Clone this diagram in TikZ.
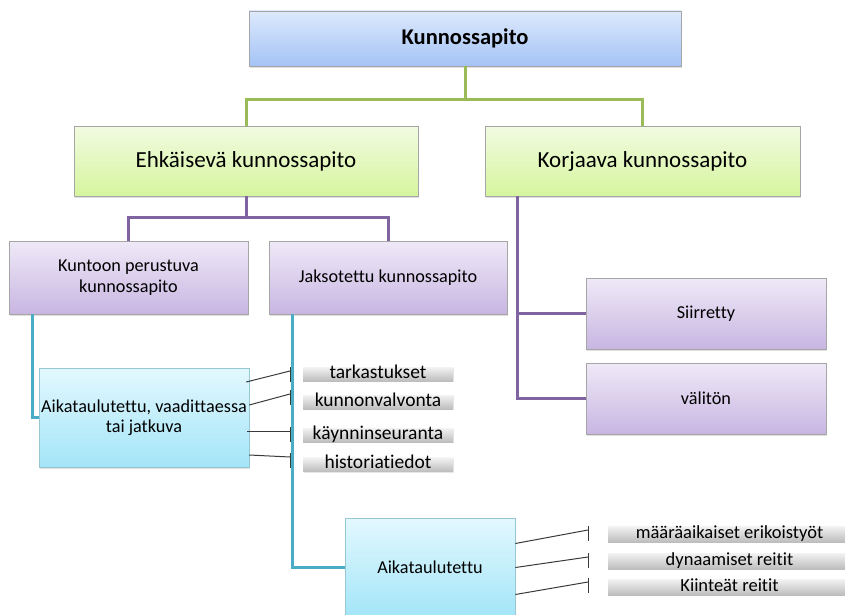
\documentclass[tikz,border=0pt]{standalone}
\usepackage{fontspec}
\setmainfont{Carlito}[Ligatures=NoCommon]
\usetikzlibrary{calc,shadows}

\definecolor{blueTop}{HTML}{DDE9FD}
\definecolor{blueBot}{HTML}{A4C3F5}
\definecolor{greenTop}{HTML}{F1FBE1}
\definecolor{greenBot}{HTML}{D6F59E}
\definecolor{purpTop}{HTML}{EFE9F7}
\definecolor{purpBot}{HTML}{C8B6E2}
\definecolor{cyanTop}{HTML}{E3F8FE}
\definecolor{cyanBot}{HTML}{A3E5F8}
\definecolor{grayTop}{HTML}{F3F3F3}
\definecolor{grayBot}{HTML}{BDBDBD}
\definecolor{boxEdge}{HTML}{A6A6A6}
\definecolor{lnGreen}{HTML}{9BBB59}
\definecolor{lnPurple}{HTML}{8064A2}
\definecolor{lnTeal}{HTML}{4BACC6}
\definecolor{lnDark}{HTML}{3A3A3A}

\tikzset{
  card/.style={draw=boxEdge, line width=0.7pt, inner sep=2pt, align=center,
    text=black, drop shadow={opacity=0.25, shadow xshift=1.2pt, shadow yshift=-1.6pt}},
  bluecard/.style={card, top color=blueTop, bottom color=blueBot},
  greencard/.style={card, top color=greenTop, bottom color=greenBot},
  purplecard/.style={card, top color=purpTop, bottom color=purpBot},
  cyancard/.style={card, draw=cyanBot!70!gray, top color=cyanTop, bottom color=cyanBot},
  tagbar/.style={inner sep=0pt, top color=grayTop, bottom color=grayBot, text=black,
    text height=10pt, text depth=2pt,
    drop shadow={opacity=0.2, shadow xshift=1pt, shadow yshift=-1.2pt}},
  fTitle/.style={font=\fontsize{22.5}{26}\selectfont\bfseries},
  fMain/.style={font=\fontsize{23}{27}\selectfont},
  fSub/.style={font=\fontsize{18.2}{20.5}\selectfont},
  fTagA/.style={font=\fontsize{19.5}{22}\selectfont},
  fTagB/.style={font=\fontsize{18.5}{21}\selectfont},
  linkGreen/.style={draw=lnGreen, line width=3pt},
  linkPurple/.style={draw=lnPurple, line width=3pt},
  linkTeal/.style={draw=lnTeal, line width=3pt},
  pointer/.style={draw=lnDark, line width=1pt},
}

\begin{document}
\begin{tikzpicture}[x=1pt, y=-1pt]
\useasboundingbox (0,0) rectangle (845,615);

% hierarchy boxes
\node[bluecard, fTitle, minimum width=432pt, minimum height=55pt] (top) at (465,38.5) {Kunnossapito};
\node[greencard, fMain, minimum width=344pt, minimum height=70pt] (ehk) at (246,161) {Ehkäisevä kunnossapito};
\node[greencard, fMain, minimum width=315pt, minimum height=70pt] (korj) at (642.5,161) {Korjaava kunnossapito};
\node[purplecard, fSub, minimum width=239pt, minimum height=73pt] (kunt) at (128.5,277.5) {Kuntoon perustuva\\kunnossapito};
\node[purplecard, fSub, minimum width=238pt, minimum height=73pt] (jakso) at (388,277.5) {Jaksotettu kunnossapito};
\node[purplecard, fSub, minimum width=240pt, minimum height=71pt] (siirr) at (706,313.5) {Siirretty};
\node[purplecard, fSub, minimum width=240pt, minimum height=71pt] (valit) at (706,398.5) {välitön};
\node[cyancard, fSub, minimum width=208pt, minimum height=99pt] (aikA) at (144,417.5) {Aikataulutettu, vaadittaessa\\tai jatkuva};
\node[cyancard, fSub, minimum width=170pt, minimum height=99pt] (aikB) at (430,567.5) {Aikataulutettu};

% grey tags
\node[tagbar, fTagA, minimum width=150pt, minimum height=14pt] (g1) at (378,374) {tarkastukset};
\node[tagbar, fTagA, minimum width=150pt, minimum height=14pt] (g2) at (378,402) {kunnonvalvonta};
\node[tagbar, fTagA, minimum width=150pt, minimum height=14pt] (g3) at (378,435) {käynninseuranta};
\node[tagbar, fTagA, minimum width=150pt, minimum height=14pt] (g4) at (378,464.5) {historiatiedot};
\node[tagbar, fTagB, minimum width=243pt, minimum height=16pt] (h1) at (729.5,534) {määräaikaiset erikoistyöt};
\node[tagbar, fTagB, minimum width=243pt, minimum height=16pt] (h2) at (729.5,561) {dynaamiset reitit};
\node[tagbar, fTagB, minimum width=243pt, minimum height=16pt] (h3) at (729.5,587) {Kiinteät reitit};

% tree connectors
\coordinate (gj) at (0,100);
\coordinate (pj) at (0,217);
\draw[linkGreen] (top.south) -- (top.south |- gj) -| (ehk.north);
\draw[linkGreen] (top.south |- gj) -| (korj.north);
\draw[linkPurple] (ehk.south) -- (ehk.south |- pj) -| (kunt.north);
\draw[linkPurple] (ehk.south |- pj) -| (jakso.north);
\draw[linkPurple] ($(korj.south west)+(33,0)$) |- (valit.west);
\draw[linkPurple] ($(korj.south west)+(33,0)$) |- (siirr.west);
\draw[linkTeal] ($(kunt.south west)+(24,0)$) |- (aikA.west);
\draw[linkTeal] ($(jakso.south west)+(24,0)$) |- (aikB.west);

% thin pointers with end ticks
\coordinate (t1) at (290,371);
\coordinate (t2) at (290,394);
\coordinate (t3) at (290,431);
\coordinate (t4) at (290,457);
\coordinate (u1) at (588,530);
\coordinate (u2) at (588,557);
\coordinate (u3) at (588,582);
\draw[pointer] ($(aikA.east)+(-3,-35.5)$) -- (t1);
\draw[pointer] ($(aikA.east)+(0,-12.5)$) -- (t2);
\draw[pointer] ($(aikA.east)+(-2,13.5)$) -- (t3);
\draw[pointer] ($(aikA.east)+(0,37.5)$) -- (t4);
\draw[pointer] ($(aikB.east)+(0,-24)$) -- (u1);
\draw[pointer] ($(aikB.east)+(0,0)$) -- (u2);
\draw[pointer] ($(aikB.east)+(0,27)$) -- (u3);
\foreach \p in {t1,t2,t3,t4,u1,u2,u3}
  \draw[pointer] ($(\p)+(0,-4)$) -- ++(0,15);
\end{tikzpicture}
\end{document}
